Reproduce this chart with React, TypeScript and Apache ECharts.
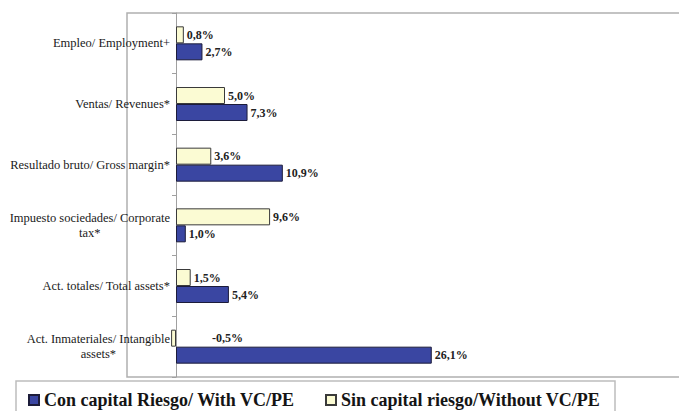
import React, { useEffect, useRef } from "react";
import * as echarts from "echarts";

const categories = [
  "Empleo/ Employment+",
  "Ventas/ Revenues*",
  "Resultado bruto/ Gross margin*",
  "Impuesto sociedades/ Corporate\ntax*",
  "Act. totales/ Total assets*",
  "Act. Inmateriales/ Intangible\nassets*",
];
const withVC = [2.7, 7.3, 10.9, 1.0, 5.4, 26.1];
const withoutVC = [0.8, 5.0, 3.6, 9.6, 1.5, -0.5];
const seriesNames = ["Con capital Riesgo/ With VC/PE", "Sin capital riesgo/Without VC/PE"];

const SERIF = "'Liberation Serif', 'DejaVu Serif', serif";

function fmt(v: number) {
  return v.toFixed(1).replace(".", ",") + "%";
}

export default function App() {
  const ref = useRef<HTMLDivElement>(null);
  useEffect(() => {
    if (!ref.current) return;
    const chart = echarts.init(ref.current, undefined, { renderer: "svg" });
    const labelStyle = {
      show: true,
      position: "right" as const,
      distance: 3,
      fontFamily: SERIF,
      fontSize: 12,
      fontWeight: "bold" as const,
      color: "#222",
      formatter: (p: any) => fmt(p.value as number),
    };
    const legendText = { fontFamily: SERIF, fontSize: 18, fontWeight: "bold" as const, color: "#141414" };
    chart.setOption({
      animation: false,
      backgroundColor: "#ffffff",
      grid: {
        left: 127,
        top: 13,
        width: 588,
        height: 364,
        containLabel: false,
        outerBoundsMode: "none",
        show: false,
      },
      xAxis: {
        type: "value",
        min: -5,
        max: 55,
        axisLabel: { show: false },
        axisLine: { show: false },
        axisTick: { show: false },
        splitLine: { show: false },
      },
      yAxis: {
        type: "category",
        inverse: true,
        data: categories,
        offset: -49,
        axisLine: { show: true, onZero: false, lineStyle: { color: "#a0a0a0", width: 1 } },
        axisTick: { show: true, length: 4, lineStyle: { color: "#a0a0a0" } },
        axisLabel: {
          margin: 6,
          formatter: (v: string) =>
            v
              .split("\n")
              .map((l) => `{c|${l}}`)
              .join("\n"),
          rich: {
            c: {
              align: "center",
              fontFamily: SERIF,
              fontSize: 12.5,
              color: "#1a1a1a",
              lineHeight: 15,
            },
          },
        },
      },
      legend: [
        {
          data: [seriesNames[0]],
          left: 28,
          top: 391,
          padding: 0,
          itemWidth: 10,
          itemHeight: 10,
          icon: "rect",
          textStyle: legendText,
        },
        {
          data: [seriesNames[1]],
          left: 325,
          top: 391,
          padding: 0,
          itemWidth: 10,
          itemHeight: 10,
          icon: "rect",
          textStyle: legendText,
        },
      ],
      graphic: [
        {
          type: "polyline",
          shape: { points: [[690, 13], [127, 13], [127, 377], [690, 377]] },
          style: { fill: "none", stroke: "#b0b0b0", lineWidth: 1.5 },
          silent: true,
          z: -1,
        },
        {
          type: "polyline",
          shape: { points: [[615, 420], [615, 381], [16, 381], [16, 420]] },
          style: { fill: "none", stroke: "#bdbdbd", lineWidth: 1.5 },
          silent: true,
        },
      ],
      series: [
        {
          name: seriesNames[1],
          type: "bar",
          barWidth: 17,
          barGap: "0%",
          data: withoutVC.map((v) =>
            v < 0 ? { value: v, label: { offset: [33, 0] } } : v
          ),
          itemStyle: { color: "#fbfbd3", borderColor: "#3a3a3a", borderWidth: 1 },
          label: labelStyle,
        },
        {
          name: seriesNames[0],
          type: "bar",
          barWidth: 17,
          barGap: "0%",
          data: withVC,
          itemStyle: { color: "#3a46a2", borderColor: "#1c1c3a", borderWidth: 1 },
          label: labelStyle,
        },
      ],
    });
    return () => chart.dispose();
  }, []);
  return <div ref={ref} style={{ position: "fixed", left: 0, top: 0, width: 679, height: 411 }} />;
}
